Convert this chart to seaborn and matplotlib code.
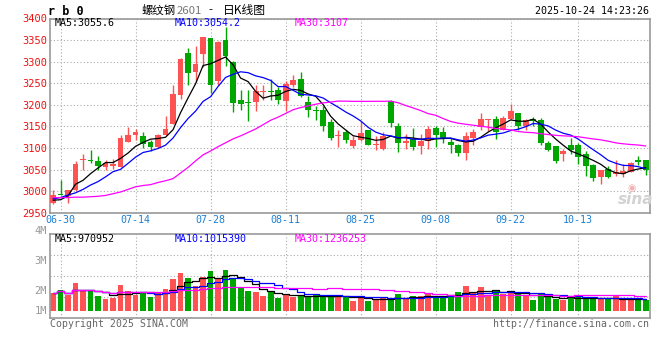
import matplotlib
matplotlib.use("Agg")
import matplotlib.pyplot as plt
import seaborn as sns
import numpy as np
import pandas as pd

holidays = ["2025-10-01", "2025-10-02", "2025-10-03", "2025-10-06", "2025-10-07", "2025-10-08"]
days = pd.bdate_range("2025-06-27", "2025-10-24")
days = days[~days.isin(pd.to_datetime(holidays))]
dates = [d.strftime("%m-%d") for d in days]

tick_labels = ["06-30", "07-14", "07-28", "08-11", "08-25", "09-08", "09-22", "10-13"]

open_ = [2973, 2994, 2989, 3002, 3073, 3072, 3069, 3056, 3058, 3056,
         3114, 3131, 3128, 3113, 3102, 3131, 3156, 3222, 3321, 3275,
         3318, 3354, 3256, 3351, 3300, 3210, 3206, 3206, 3230, 3233,
         3235, 3208, 3247, 3260, 3206, 3189, 3189, 3160, 3128, 3138,
         3104, 3118, 3141, 3106, 3097, 3208, 3150, 3112, 3120, 3104,
         3115, 3146, 3137, 3114, 3108, 3088, 3124, 3148, 3164, 3166,
         3142, 3168, 3182, 3152, 3166, 3164, 3112, 3104, 3085, 3108,
         3106, 3087, 3060, 3033, 3051, 3039, 3039, 3045, 3071, 3071]
high = [3002, 3025, 3003, 3069, 3085, 3095, 3082, 3073, 3075, 3129,
        3148, 3143, 3136, 3119, 3133, 3175, 3246, 3308, 3331, 3337,
        3358, 3355, 3347, 3380, 3301, 3235, 3235, 3247, 3246, 3260,
        3241, 3255, 3268, 3275, 3221, 3198, 3198, 3168, 3141, 3141,
        3127, 3162, 3142, 3127, 3137, 3210, 3158, 3133, 3146, 3132,
        3152, 3150, 3148, 3124, 3109, 3137, 3143, 3181, 3168, 3175,
        3173, 3201, 3182, 3168, 3172, 3170, 3115, 3104, 3098, 3122,
        3112, 3093, 3062, 3050, 3058, 3073, 3062, 3068, 3081, 3072]
low = [2970, 2990, 2973, 3001, 3049, 3066, 3048, 3048, 3052, 3055,
       3113, 3118, 3101, 3093, 3101, 3130, 3155, 3214, 3245, 3252,
       3287, 3227, 3245, 3289, 3183, 3189, 3162, 3185, 3210, 3210,
       3201, 3185, 3241, 3219, 3172, 3164, 3139, 3118, 3102, 3112,
       3101, 3117, 3108, 3096, 3095, 3148, 3091, 3098, 3095, 3085,
       3097, 3102, 3112, 3088, 3081, 3073, 3106, 3141, 3139, 3120,
       3141, 3167, 3141, 3142, 3152, 3108, 3094, 3065, 3070, 3087,
       3062, 3035, 3024, 3016, 3031, 3036, 3033, 3044, 3060, 3037]
close = [2992, 2992, 3002, 3064, 3075, 3069, 3058, 3065, 3064, 3123,
         3131, 3136, 3110, 3102, 3131, 3145, 3224, 3307, 3273, 3295,
         3356, 3245, 3346, 3312, 3204, 3203, 3204, 3233, 3233, 3229,
         3212, 3248, 3258, 3220, 3188, 3185, 3152, 3123, 3131, 3118,
         3118, 3135, 3108, 3110, 3127, 3158, 3112, 3116, 3102, 3115,
         3143, 3129, 3120, 3106, 3088, 3127, 3137, 3166, 3166, 3138,
         3170, 3185, 3152, 3164, 3162, 3112, 3095, 3070, 3093, 3095,
         3079, 3058, 3031, 3048, 3032, 3044, 3046, 3066, 3068, 3048]

# volume in millions
volume = [1.48, 1.73, 1.32, 2.30, 1.73, 1.67, 1.26, 1.01, 1.10, 2.14,
          1.64, 1.32, 1.48, 1.18, 1.48, 1.81, 2.66, 3.15, 2.74, 2.05,
          2.79, 3.32, 2.74, 3.40, 2.60, 1.92, 1.64, 1.56, 1.26, 1.64,
          1.10, 1.40, 1.18, 1.23, 1.23, 1.32, 1.23, 1.26, 1.32, 1.12,
          0.82, 1.23, 0.82, 0.99, 1.04, 0.90, 1.40, 0.96, 1.26, 1.23,
          1.37, 1.23, 1.26, 1.32, 1.56, 2.05, 1.45, 1.97, 1.32, 1.73,
          1.40, 1.64, 1.40, 1.23, 0.90, 1.40, 1.23, 0.99, 0.90, 1.12,
          1.23, 1.12, 0.99, 0.99, 0.99, 1.23, 0.90, 0.90, 0.90, 0.90]

# moving averages shown before enough days are in the window (they use older data)
ma5_head = [2979, 2980, 2989, 3016]
ma10_head = [2982, 2985, 2991, 2996, 3004, 3014, 3022, 3033, 3045]
ma30_head = [2985, 2985, 2985, 2986, 2986, 2987, 2988, 2990, 2994, 2998,
             3004, 3010, 3013, 3015, 3020, 3024, 3029, 3042, 3055, 3070,
             3084, 3093, 3103, 3112, 3121, 3128, 3136, 3144, 3154]

# values printed in the chart legends
price_ma_text = ["MA5:3055.6", "MA10:3054.2", "MA30:3107"]
vol_ma_text = ["MA5:970952", "MA10:1015390", "MA30:1236253"]
vol_axis_text = ["4M", "3M", "2M", "1M"]

# ---------- PREP ----------

o = np.array(open_, float)
h = np.array(high, float)
l = np.array(low, float)
c = np.array(close, float)
vol = np.array(volume)
idx = np.arange(len(c))
tick_pos = [dates.index(t) for t in tick_labels]


def moving_avg(values, n, head):
    ma = pd.Series(values).rolling(n).mean().to_numpy()
    ma[: len(head)] = head
    return ma


ma5 = moving_avg(c, 5, ma5_head)
ma10 = moving_avg(c, 10, ma10_head)
ma30 = moving_avg(c, 30, ma30_head)
vma5 = pd.Series(vol).rolling(5, min_periods=1).mean()
vma10 = pd.Series(vol).rolling(10, min_periods=1).mean()
vma30 = pd.Series(vol).rolling(30, min_periods=1).mean()

RED = "#ff5353"
GREEN = "#00a600"
GRID = "#aaaaaa"
FRAME = "#999999"
MA_COLORS = ["black", "#0000ff", "#ff00ff"]
up = c >= o
colors = np.where(up, RED, GREEN)

# ---------- FIGURE ----------

sns.set_style("white")
plt.rcParams["font.family"] = ["DejaVu Sans Mono", "Noto Sans CJK SC"]

W, H = 660, 360
fig = plt.figure(figsize=(W / 100, H / 100), dpi=100)


def box(x0, y0, x1, y1):
    return [x0 / W, 1 - y1 / H, (x1 - x0) / W, (y1 - y0) / H]


def ftext(px, py, s, **kw):
    kw.setdefault("va", "center")
    fig.text(px / W, 1 - py / H, s, **kw)


ax = fig.add_axes(box(50, 18.5, 649.5, 212.7))
axv = fig.add_axes(box(50, 234.3, 649.5, 317.7))

# ---------- CANDLES ----------
ax.vlines(idx, l, h, colors=colors, lw=1, zorder=3)
body = np.maximum(np.abs(c - o), 1.2)
ax.bar(idx, body, bottom=np.minimum(o, c), width=0.78, color=colors, linewidth=0, zorder=4)

for ma, col in zip([ma5, ma10, ma30], MA_COLORS):
    sns.lineplot(x=idx, y=ma, ax=ax, color=col, lw=0.9, zorder=5)

ax.set_xlim(-0.4, len(c) - 0.5)
ax.set_ylim(2950, 3400)
ax.set_yticks(np.arange(2950, 3401, 50))
ax.set_xticks(tick_pos)
ax.set_xticklabels(tick_labels)
ax.grid(True, ls=(0, (1, 2)), color=GRID, lw=0.8)
ax.set_axisbelow(True)
ax.tick_params(axis="y", length=0, pad=2, labelsize=7.5, labelcolor="#ee1111")
ax.tick_params(axis="x", length=0, pad=1.5, labelsize=7.2, labelcolor="#1a7fd4")
ax.set_xlabel("")
ax.set_ylabel("")

# ---------- VOLUME ----------
vdf = pd.DataFrame({"i": idx, "vol": vol, "dir": np.where(up, "up", "down")})
sns.barplot(data=vdf, x="i", y="vol", hue="dir", palette={"up": RED, "down": GREEN},
            native_scale=True, dodge=False, width=0.78, errorbar=None, legend=False,
            saturation=1, linewidth=0, ax=axv)
for ma, col in zip([vma5, vma10, vma30], MA_COLORS):
    sns.lineplot(x=idx, y=ma, ax=axv, color=col, lw=0.9, drawstyle="steps-mid")

v_lo, v_hi = -0.55, 6.3
axv.set_xlim(-0.4, len(c) - 0.5)
axv.set_ylim(v_lo, v_hi)
axv.set_yticks(np.linspace(v_lo, v_hi, 5)[1:4])
axv.set_xticks(tick_pos)
axv.grid(True, ls=(0, (1, 2)), color=GRID, lw=0.8)
axv.set_axisbelow(True)
axv.tick_params(length=0, labelleft=False, labelbottom=False)
axv.set_xlabel("")
axv.set_ylabel("")

for a in (ax, axv):
    for sp in a.spines.values():
        sp.set_color(FRAME)
        sp.set_linewidth(1.2)

# ---------- TEXT ----------
ftext(48, 11.5, "r b 0", fontsize=8.5, fontweight="bold", color="black")
cjk = ["Noto Sans CJK SC", "DejaVu Sans"]
ftext(142, 10.5, "螺纹钢", fontsize=8.2, family=cjk, color="black")
ftext(177, 10.5, "2601", fontsize=8.2, family=cjk, color="#777777")
ftext(208, 10.5, "-", fontsize=8.2, family=cjk, color="black")
ftext(223, 10.5, "日K线图", fontsize=8.5, family=cjk, color="black")
ftext(649, 11, "2025-10-24 14:23:26", fontsize=7.2, ha="right", color="black")

for s, px, col in zip(price_ma_text, [55, 175, 295], MA_COLORS):
    ftext(px, 23.5, s, fontsize=7.2, color=col)
for s, px, col in zip(vol_ma_text, [55, 175, 295], MA_COLORS):
    ftext(px, 238.5, s, fontsize=7.2, color=col)

for lab, py in zip(vol_axis_text, [231, 261, 291, 311]):
    ftext(47, py, lab, fontsize=7.5, ha="right", color="#999999")

ftext(50, 324, "Copyright 2025 SINA.COM", fontsize=7.1, color="#666666")
ftext(649, 324, "http://finance.sina.com.cn", fontsize=7.1, ha="right", color="#666666")

ftext(636, 200, "sina", fontsize=11, ha="center", fontstyle="italic", fontweight="bold",
      family="DejaVu Sans", color="#d2d2d2")
ftext(632, 188, "\u25c9", fontsize=7, ha="center", family="DejaVu Sans", color="#f3b3b3")

fig.savefig("out.png", dpi=100)
